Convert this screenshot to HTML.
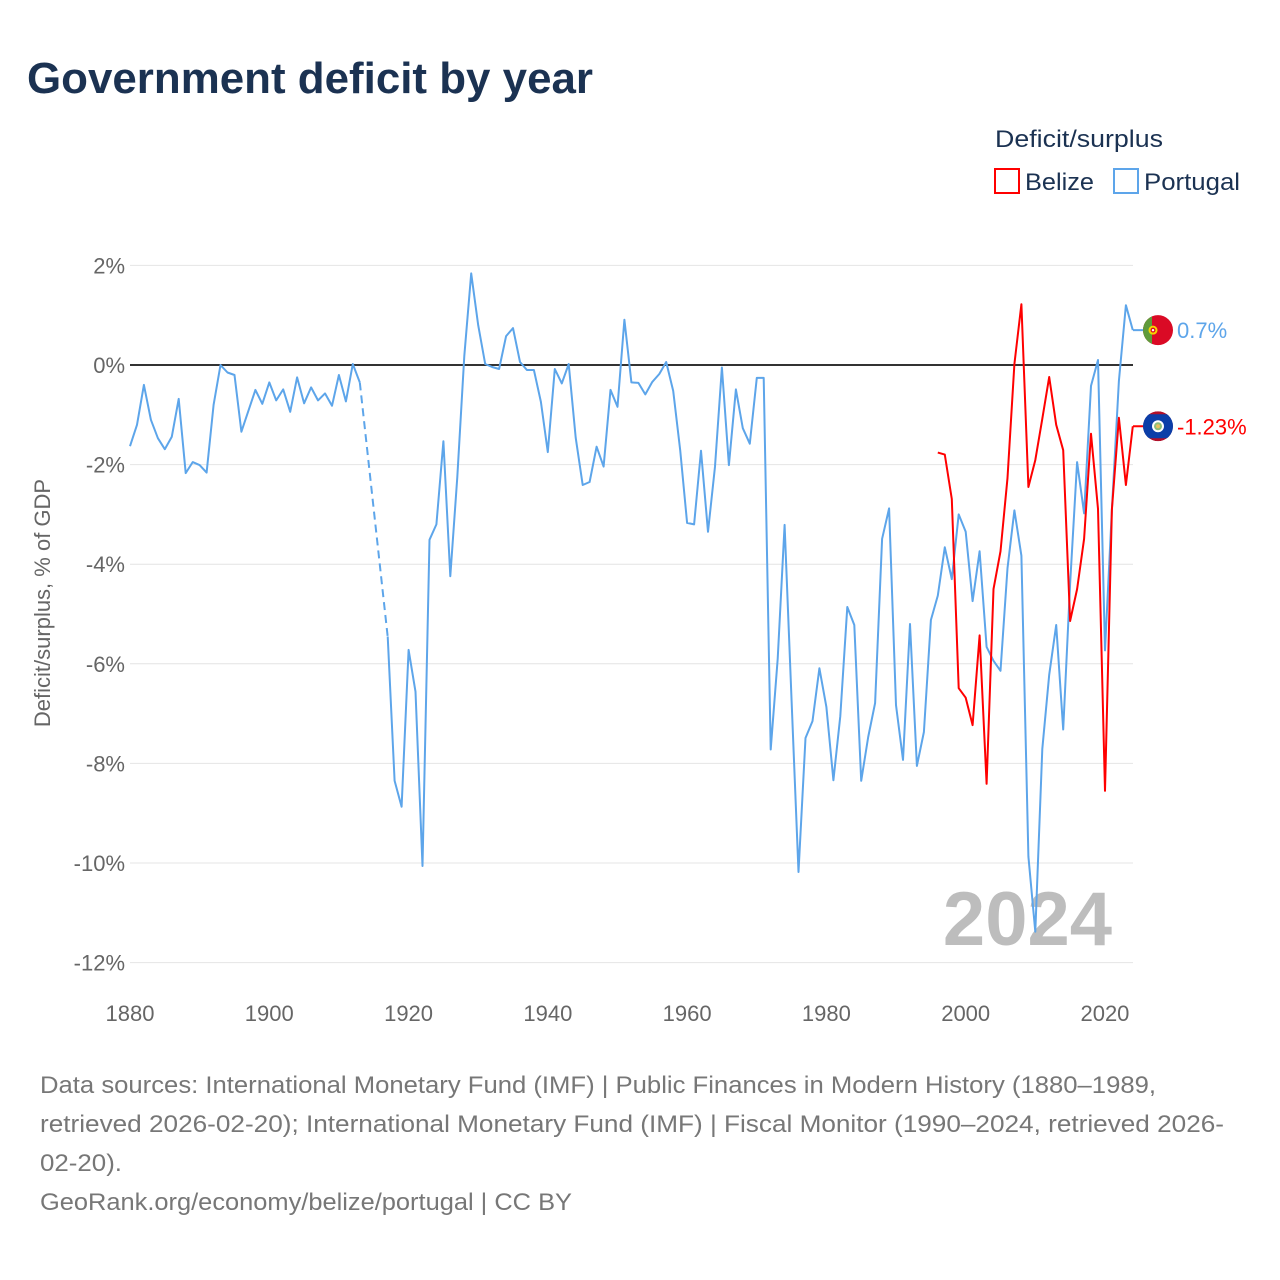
<!DOCTYPE html>
<html><head><meta charset="utf-8"><style>
html,body{margin:0;padding:0;background:#fff}
svg{display:block;font-family:"Liberation Sans",sans-serif}
</style></head><body>
<svg id="chart" width="1280" height="1280" viewBox="0 0 1280 1280">
<defs><clipPath id="bzclip"><circle id="bzc" cx="1158" cy="426" r="15"/></clipPath></defs>
<text x="27" y="93" font-size="44" font-weight="bold" fill="#1b3252" textLength="566" lengthAdjust="spacingAndGlyphs">Government deficit by year</text>
<text x="995" y="147" font-size="24" fill="#1b3252" textLength="168" lengthAdjust="spacingAndGlyphs">Deficit/surplus</text>
<g>
<rect x="995" y="169" width="24" height="24" fill="none" stroke="#ff0000" stroke-width="2"/>
<text x="1025" y="190" font-size="24" fill="#1b3252" textLength="69" lengthAdjust="spacingAndGlyphs">Belize</text>
</g>
<g>
<rect x="1114" y="169" width="24" height="24" fill="none" stroke="#5da5ea" stroke-width="2"/>
<text x="1144" y="190" font-size="24" fill="#1b3252" textLength="96" lengthAdjust="spacingAndGlyphs">Portugal</text>
</g>
<text transform="translate(50,603) rotate(-90)" text-anchor="middle" font-size="22" fill="#666">Deficit/surplus, % of GDP</text>
<g id="grid"></g>
<text x="1112" y="945" text-anchor="end" font-size="76" font-weight="bold" fill="#bdbdbd">2024</text>
<g id="marks"></g>
<g id="ends"></g>
<g font-size="24" fill="#777">
<text x="40" y="1093" textLength="1116" lengthAdjust="spacingAndGlyphs">Data sources: International Monetary Fund (IMF) | Public Finances in Modern History (1880–1989,</text>
<text x="40" y="1132" textLength="1184" lengthAdjust="spacingAndGlyphs">retrieved 2026-02-20); International Monetary Fund (IMF) | Fiscal Monitor (1990–2024, retrieved 2026-</text>
<text x="40" y="1171" textLength="82" lengthAdjust="spacingAndGlyphs">02-20).</text>
<text x="40" y="1210" textLength="532" lengthAdjust="spacingAndGlyphs">GeoRank.org/economy/belize/portugal | CC BY</text>
</g>
</svg>
<script>
const yTicks = [2, 0, -2, -4, -6, -8, -10, -12];
const xTicks = [1880, 1900, 1920, 1940, 1960, 1980, 2000, 2020];
const portugalStart = 1880;
const portugalEarly = [-1.63,-1.2,-0.4,-1.1,-1.47,-1.69,-1.44,-0.68,-2.17,-1.95,-2.01,-2.16,-0.8,0,-0.15,-0.2,-1.34,-0.92,-0.5,-0.78,-0.35,-0.71,-0.49,-0.94,-0.25,-0.77,-0.45,-0.71,-0.57,-0.82,-0.2,-0.73,0.02,-0.35];
const portugalLateStart = 1917;
const portugalLate = [-5.45,-8.35,-8.87,-5.72,-6.56,-10.06,-3.51,-3.2,-1.53,-4.24,-2.25,0.18,1.84,0.8,0.02,-0.04,-0.08,0.58,0.74,0.06,-0.1,-0.1,-0.74,-1.75,-0.08,-0.37,0.02,-1.46,-2.41,-2.35,-1.64,-2.04,-0.5,-0.84,0.91,-0.35,-0.36,-0.59,-0.34,-0.18,0.06,-0.52,-1.71,-3.17,-3.2,-1.72,-3.35,-2.04,-0.05,-2.01,-0.49,-1.27,-1.58,-0.26,-0.26,-7.72,-5.9,-3.21,-6.75,-10.18,-7.49,-7.15,-6.09,-6.87,-8.34,-7.05,-4.86,-5.22,-8.35,-7.47,-6.79,-3.49,-2.88,-6.83,-7.93,-5.2,-8.05,-7.37,-5.12,-4.63,-3.66,-4.3,-3.0,-3.35,-4.74,-3.74,-5.66,-5.94,-6.14,-4.08,-2.92,-3.83,-9.87,-11.38,-7.71,-6.22,-5.22,-7.32,-4.4,-1.95,-2.98,-0.42,0.1,-5.73,-2.9,-0.32,1.2,0.7];
const belizeStart = 1996;
const belize = [-1.76,-1.8,-2.69,-6.49,-6.68,-7.23,-5.43,-8.41,-4.5,-3.74,-2.27,0.02,1.22,-2.45,-1.91,-1.08,-0.24,-1.2,-1.71,-5.14,-4.5,-3.49,-1.38,-2.89,-8.55,-2.9,-1.06,-2.41,-1.23];

const NS = 'http://www.w3.org/2000/svg';
const X0 = 130, Y0year = 1880, PXY = 6.964;
const x = yr => X0 + (yr - Y0year) * PXY;
const y = v => 365 - v * 49.8;
const mk = (tag, attrs, parent) => { const e = document.createElementNS(NS, tag); for (const k in attrs) e.setAttribute(k, attrs[k]); parent.appendChild(e); return e; };
const grid = document.getElementById('grid');
yTicks.forEach(t => {
  const ln = mk('line', {x1: 130, x2: 1133, y1: y(t), y2: y(t), stroke: t === 0 ? '#333' : '#e4e4e4', 'stroke-width': t === 0 ? 2 : 1}, grid);
  
  
  const tx = mk('text', {x: 125, y: y(t) + 8, 'text-anchor': 'end', 'font-size': 22, fill: '#666'}, grid);
  tx.textContent = t + '%';
  
  
});
xTicks.forEach(t => {
  const tx = mk('text', {x: x(t), y: 1021, 'text-anchor': 'middle', 'font-size': 22, fill: '#666'}, grid);
  tx.textContent = t;
  
  
});
const marks = document.getElementById('marks');
const pathOf = (start, arr) => arr.map((v, i) => (i ? 'L' : 'M') + x(start + i).toFixed(1) + ',' + y(v).toFixed(1)).join('');
let p = mk('path', {d: pathOf(portugalStart, portugalEarly), fill: 'none', stroke: '#5da5ea', 'stroke-width': 2, 'stroke-linejoin': 'round'}, marks);


const lastE = portugalStart + portugalEarly.length - 1;
p = mk('path', {d: 'M' + x(lastE) + ',' + y(portugalEarly[portugalEarly.length - 1]) + 'L' + x(portugalLateStart) + ',' + y(portugalLate[0]), fill: 'none', stroke: '#5da5ea', 'stroke-width': 2, 'stroke-dasharray': '8,5'}, marks);


p = mk('path', {d: pathOf(portugalLateStart, portugalLate), fill: 'none', stroke: '#5da5ea', 'stroke-width': 2, 'stroke-linejoin': 'round'}, marks);


p = mk('path', {d: pathOf(belizeStart, belize), fill: 'none', stroke: '#ff0000', 'stroke-width': 2, 'stroke-linejoin': 'round'}, marks);



const ends = document.getElementById('ends');
const pv = portugalLate[portugalLate.length - 1], bv = belize[belize.length - 1];
const py = y(pv), by = y(bv);
let g = mk('g', {}, ends);


mk('line', {x1: 1133, x2: 1145, y1: py, y2: py, stroke: '#5da5ea', 'stroke-width': 2}, g);
mk('circle', {cx: 1158, cy: py, r: 15, fill: '#da0a25'}, g);
mk('path', {d: `M1152,${py - 13.75} A15,15 0 0 0 1152,${py + 13.75} Z`, fill: '#5f9a3b'}, g);
mk('circle', {cx: 1153, cy: py, r: 4.5, fill: '#f5d400'}, g);
mk('circle', {cx: 1153, cy: py, r: 2.5, fill: '#da0a25'}, g);
mk('circle', {cx: 1153, cy: py, r: 1.2, fill: '#fff'}, g);
let t = mk('text', {x: 1177, y: py + 8, 'font-size': 22, fill: '#5da5ea'}, ends);
t.textContent = pv + '%';


document.getElementById('bzc').setAttribute('cy', by);
g = mk('g', {'clip-path': 'url(#bzclip)'}, ends);


mk('circle', {cx: 1158, cy: by, r: 15, fill: '#b0102a'}, g);
mk('rect', {x: 1143, y: by - 12, width: 30, height: 24, fill: '#0b3ea8'}, g);
mk('circle', {cx: 1158, cy: by, r: 6, fill: '#fff'}, g);
mk('circle', {cx: 1158, cy: by, r: 4, fill: '#8cbf7a'}, g);
mk('circle', {cx: 1158, cy: by, r: 2, fill: '#e8c060'}, g);
const ln2 = mk('line', {x1: 1133, x2: 1143, y1: by, y2: by, stroke: '#ff0000', 'stroke-width': 2}, ends);


t = mk('text', {x: 1177, y: by + 8, 'font-size': 22, fill: '#ff0000'}, ends);
t.textContent = bv + '%';


</script>
</body></html>
